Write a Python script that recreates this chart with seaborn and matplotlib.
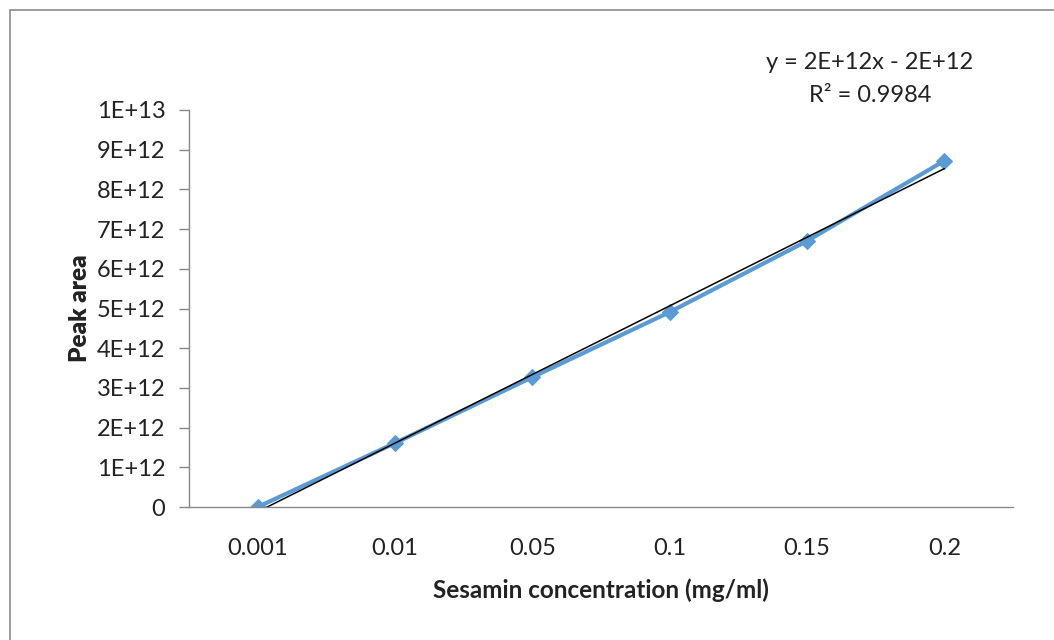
import numpy as np
import pandas as pd
import matplotlib.pyplot as plt
import seaborn as sns
from matplotlib.patches import Rectangle

# =========================
# DATA
# =========================
concentrations = ["0.001", "0.01", "0.05", "0.1", "0.15", "0.2"]
peak_area = [0.0, 1.61e12, 3.27e12, 4.91e12, 6.70e12, 8.72e12]
y_ticks = [0, 1e12, 2e12, 3e12, 4e12, 5e12, 6e12, 7e12, 8e12, 9e12, 1e13]
y_tick_labels = ["0", "1E+12", "2E+12", "3E+12", "4E+12", "5E+12",
                 "6E+12", "7E+12", "8E+12", "9E+12", "1E+13"]
equation_text = "y = 2E+12x - 2E+12\nR² = 0.9984"

df = pd.DataFrame({"pos": np.arange(1, len(concentrations) + 1), "area": peak_area})

# linear trendline on category index (Excel style)
slope, intercept = np.polyfit(df["pos"], df["area"], 1)
trend = pd.DataFrame({"pos": df["pos"], "area": slope * df["pos"] + intercept})

# =========================
# STYLE
# =========================
sns.set_theme(style="white")
plt.rcParams["font.family"] = ["Lato", "DejaVu Sans"]
text_color = "#222222"
spine_color = "#888888"

# =========================
# FIGURE
# =========================
fig = plt.figure(figsize=(10.54, 6.4), dpi=100)
ax = fig.add_axes([189 / 1054, 1 - 507 / 640, 824 / 1054, 397 / 640])

# outer chart frame
fig.patches.append(Rectangle((10 / 1054, -0.1), 1.2, 1 - 10 / 640 + 0.1,
                             transform=fig.transFigure, fill=False,
                             edgecolor="#8c8c8c", linewidth=1.2))

sns.lineplot(data=df, x="pos", y="area", color="#5B9BD5", linewidth=3,
             marker="D", markersize=8.5, markeredgecolor="#5B9BD5", ax=ax)
sns.lineplot(data=trend, x="pos", y="area", color="black", linewidth=1.1, ax=ax)

ax.set_xlim(0.5, len(concentrations) + 0.5)
ax.set_ylim(0, 1e13)
ax.set_xticks(df["pos"])
ax.set_xticklabels(concentrations)
ax.set_yticks(y_ticks)
ax.set_yticklabels(y_tick_labels)

ax.tick_params(axis="x", length=0, pad=22, labelsize=17, labelcolor=text_color)
ax.tick_params(axis="y", length=7, width=1, color=spine_color, pad=10,
               labelsize=17, labelcolor=text_color, left=True)

for side in ["top", "right"]:
    ax.spines[side].set_visible(False)
for side in ["left", "bottom"]:
    ax.spines[side].set_color(spine_color)
    ax.spines[side].set_linewidth(1)

ax.set_xlabel("Sesamin concentration (mg/ml)", fontsize=17.5, fontweight="bold",
              color=text_color, labelpad=14)
ax.set_ylabel("Peak area", fontsize=17.5, fontweight="heavy", color=text_color,
              labelpad=4)

fig.text(870 / 1054, 1 - 79 / 640, equation_text, ha="center", va="center",
         fontsize=17, color=text_color, linespacing=1.75)

plt.savefig("out.png", dpi=100)
